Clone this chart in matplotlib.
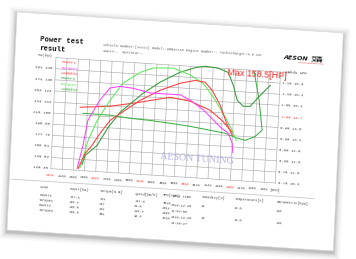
import numpy as np
import matplotlib.pyplot as plt
from matplotlib.transforms import Affine2D
from matplotlib.patches import Polygon

# Curves (rpm / value)
power1_rpm = [2424, 2506, 2591, 2689, 2812, 3001, 3189, 3445, 3701, 3893, 4024, 4120, 4234, 4323, 4408]
power1_kw = [42, 58.7, 67.9, 81.4, 96.2, 108, 119.8, 132, 141, 145, 143.8, 135.6, 120, 102, 88.4]

torque1_rpm = [2411, 2474, 2524, 2670, 2792, 2919, 3095, 3314, 3710, 3841, 4017, 4251, 4354, 4412, 4427]
torque1_nm = [123, 163, 207, 243, 264, 268, 266, 260, 260, 252, 237, 209, 200, 183, 167]

lambda1_rpm = [2414, 2802, 3190, 3578, 3841, 4105, 4266, 4407]
lambda1_val = [0.984, 0.997, 1.024, 1.055, 1.043, 1.008, 0.966, 0.915]

power2_rpm = [2474, 2508, 2657, 2790, 2937, 3224, 3439, 3694, 3897, 4017, 4178, 4319, 4392, 4452, 4534, 4625,
              4723, 4874]
power2_kw = [46.6, 56.6, 68.2, 88.4, 105.5, 127.6, 140.7, 152.9, 159, 161, 160, 156, 142.5, 126.5, 120.5, 121,
             131, 145]

torque2_rpm = [2449, 2537, 2642, 2799, 2959, 3174, 3341, 3600, 3827, 4001, 4139, 4306, 4405, 4464]
torque2_nm = [125, 172, 207, 243, 274, 294, 303, 305, 295, 282, 260, 227, 205, 188]

lambda2_rpm = [2455, 2808, 3071, 3332, 3594, 3856, 4120, 4316, 4448, 4581, 4708, 4794, 4737, 4657]
lambda2_val = [0.958, 0.957, 0.949, 0.945, 0.938, 0.930, 0.918, 0.909, 0.893, 0.883, 0.904, 0.933, 1.067, 1.192]

# Axis labels
x_labels = ["2070", "2130", "2300", "2450", "2590", "2750", "2900", "3050", "3210", "3358", "3508",
            "3658", "3808", "3970", "4132", "4280", "4460", "4570", "4700", "4852", "[RPM]"]
red_x = [0, 4, 8, 12, 16]
torque_ticks = [120, 139, 158, 177, 196, 215, 234, 253, 272, 291]
power_ticks = [40, 52, 64, 76, 88, 100, 112, 124, 136, 148]
lambda_ticks = ["0.70", "0.75", "0.80", "0.85", "0.90", "0.95", "1.00", "1.05", "1.10", "1.15"]
afr_ticks = ["10.3", "11.0", "11.8", "12.5", "13.2", "14.0", "14.7", "15.4", "16.2", "16.9"]

# Table below the chart
items = ["Power1", "Torque1", "Power2", "Torque2"]
tbl_power = ["127.4", "106.2", "108.5", "135.6"]
tbl_torque = ["261", "287", "232", "302"]
tbl_speed = ["137.9", "84.6", "118.2", "95.3"]
tbl_rpm = ["3510", "2864", "4860", "3210"]
tbl_time = ["2019-12-20", "16:57:58", "2019-12-20", "15:46:27"]
tbl_humidity = ["44", "40"]
tbl_temp = ["15.0", "15.0"]
tbl_baro = ["100", "100"]

# Colors:
red = "#ff3b3b"
magenta = "#ff40ff"
light_green = "#5fe85a"
dark_green = "#2f9a35"
mid_green = "#3cb043"
grid_color = "#ababab"
text_gray = "#4a4a4a"
mono = "Liberation Mono"

fig = plt.figure(figsize=(3.56, 2.59), dpi=100)
ax = fig.add_axes([0, 0, 1, 1])
ax.set_xlim(0, 356)
ax.set_ylim(259, 0)
ax.axis("off")

# The scanned sheet is slightly rotated/skewed: sheet px -> picture px
sheet = Affine2D(np.array([[0.998, -0.046, 17.0], [0.064, 1.0, 12.0], [0, 0, 1]])) + ax.transData
tilt = -3.7
W, H = 327, 218

# Shadow + paper
for d, a in [(7, 0.03), (5, 0.04), (3.5, 0.05), (2, 0.07), (1, 0.08)]:
    ax.add_patch(Polygon([(-d, -d + 2), (W + d, -d + 2), (W + d, H + d + 2), (-d, H + d + 2)],
                         closed=True, fc="black", alpha=a, lw=0, transform=sheet, zorder=1))
ax.add_patch(Polygon([(0, 0), (W, 0), (W, H), (0, H)], closed=True, fc="white", ec="#d8d8d8", lw=0.4,
                     transform=sheet, zorder=2))

# Plot area: 20 x 10 grid cells on the sheet
grid = Affine2D().scale(11.25, -11.1).translate(41, 154) + sheet
rpm0, rpm_step = 2070, 146.4


def value_tr(lo, step):
    return Affine2D().translate(-rpm0, -lo).scale(1 / rpm_step, 1 / step) + grid


power_tr = value_tr(40, 12)
torque_tr = value_tr(120, 19)
lambda_tr = value_tr(0.70, 0.05)

for i in range(21):
    ax.plot([i, i], [0, 10], color=grid_color, lw=0.45, transform=grid, zorder=3)
for j in range(11):
    ax.plot([0, 20], [j, j], color=grid_color, lw=0.45, transform=grid, zorder=3)

# Curves
lw = 0.75
ax.plot(lambda2_rpm, lambda2_val, color=mid_green, lw=lw, transform=lambda_tr, zorder=4)
ax.plot(lambda1_rpm, lambda1_val, color=red, lw=lw, transform=lambda_tr, zorder=4)
ax.plot(power2_rpm, power2_kw, color=dark_green, lw=lw, transform=power_tr, zorder=4)
ax.plot(torque2_rpm, torque2_nm, color=light_green, lw=lw, transform=torque_tr, zorder=4)
ax.plot(power1_rpm, power1_kw, color=red, lw=lw, transform=power_tr, zorder=4)
ax.plot(torque1_rpm, torque1_nm, color=magenta, lw=lw, transform=torque_tr, zorder=4)

txt = dict(rotation=tilt, rotation_mode="anchor", zorder=5)

# Tick labels
for j in range(10):
    ax.text(-0.25, j, f"{torque_ticks[j]} {power_ticks[j]}", ha="right", va="center", fontsize=3.0,
            family=mono, color=text_gray, transform=grid, **txt)
    ax.text(20.2, j, f"{lambda_ticks[j]} {afr_ticks[j]}", ha="left", va="center", fontsize=2.8,
            family=mono, color=red if lambda_ticks[j] == "1.00" else text_gray, transform=grid, **txt)
ax.text(-0.25, 10.15, "Pw(kW)", ha="right", va="center", fontsize=3.0, family=mono, color=text_gray,
        transform=grid, **txt)
ax.text(20.2, 10, "Lambda AFR", ha="left", va="center", fontsize=2.8, family=mono, color=text_gray,
        transform=grid, **txt)
for i, lab in enumerate(x_labels):
    ax.text(i, -0.45, lab, ha="center", va="top", fontsize=2.6, family=mono,
            color=red if i in red_x else text_gray, transform=grid, **txt)

# Legend
legend = [("Power1", red), ("Torque1", magenta), ("Lambda1", red),
          ("Power2", dark_green), ("Torque2", light_green), ("Lambda2", mid_green)]
for k, (name, col) in enumerate(legend):
    ax.text(0.5, 9.6 - 0.48 * k, name, ha="left", va="center", fontsize=3.0, family=mono, color=col,
            transform=grid, **txt)

ax.text(15.3, 9.65, "Max 158.5[HP]", ha="left", va="center", fontsize=6.5, family="Liberation Sans",
        color="#ff2a2a", transform=grid, **txt)
ax.text(12.95, 1.75, "AESON TUNING", ha="center", va="center", fontsize=7.2, family="Liberation Serif",
        color="#b4b4e6", transform=grid, **txt)

# Header
ax.text(24, 25.5, "Power test", ha="left", va="center", fontsize=5.2, family=mono, weight="bold",
        color="#111111", transform=sheet, **txt)
ax.text(24, 34.5, "result", ha="left", va="center", fontsize=5.2, family=mono, weight="bold",
        color="#111111", transform=sheet, **txt)
ax.text(88, 27.5, "Vehicle Number:[XXXXX] Model:-9MM4XTSR Engine Number:- Turbocharger:6.0 Car",
        ha="left", va="center", fontsize=2.6, family=mono, color="#666666", transform=sheet, **txt)
ax.text(88, 33.5, "Owner:-  Operator:-", ha="left", va="center", fontsize=2.6, family=mono,
        color="#666666", transform=sheet, **txt)
ax.text(268, 28, "AESON", ha="left", va="center", fontsize=4.6, weight="bold", style="italic",
        color="#1a1a1a", transform=sheet, **txt)
ax.text(296, 27.8, "艾森", ha="left", va="center", fontsize=4.4, weight="bold",
        family=["Noto Sans CJK SC", "DejaVu Sans"], color="#1a1a1a", transform=sheet, **txt)
ax.text(283, 32.5, "AESON PERFORMANCE", ha="left", va="center", fontsize=1.6, color="#d02020",
        transform=sheet, **txt)

# Table
ax.plot([2, 305], [167, 167], color="#c8c8c8", lw=0.6, transform=sheet, zorder=4)
cols = [(31, "Item", items), (61, "Power[kW]", tbl_power), (91, "Torque[N.m]", tbl_torque),
        (126, "Speed[km/h]", tbl_speed), (154, "RPM[rpm]", tbl_rpm)]
for u, head, vals in cols:
    ax.text(u, 173.5, head, ha="left", va="center", fontsize=2.6, family=mono, color=text_gray,
            transform=sheet, **txt)
    for r, v in enumerate(vals):
        ax.text(u, 181 + 5 * r, v, ha="left", va="center", fontsize=2.6, family=mono, color=text_gray,
                transform=sheet, **txt)
ax.text(163, 173.5, "Test time", ha="left", va="center", fontsize=2.6, family=mono, color=text_gray,
        transform=sheet, **txt)
for r, v in enumerate(tbl_time):
    ax.text(163, 183 + 6 * r, v, ha="left", va="center", fontsize=2.6, family=mono, color=text_gray,
            transform=sheet, **txt)
for u, head, vals in [(193, "Humidity[%]", tbl_humidity), (226, "Temperature[c]", tbl_temp),
                      (268, "Barometric[kpa]", tbl_baro)]:
    ax.text(u, 172.5, head, ha="left", va="center", fontsize=2.6, family=mono, color=text_gray,
            transform=sheet, **txt)
    for r, v in enumerate(vals):
        ax.text(u, 181.5 + 12.5 * r, v, ha="left", va="center", fontsize=2.6, family=mono, color=text_gray,
                transform=sheet, **txt)

fig.savefig("out.png", dpi=100, facecolor="white")
